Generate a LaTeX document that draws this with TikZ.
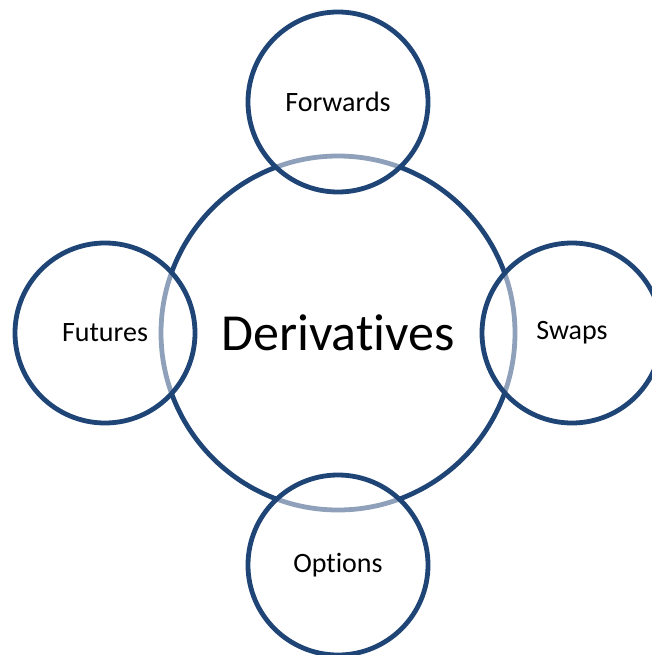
\documentclass[tikz,border=0pt]{standalone}
\usepackage{fontspec}
\setmainfont{Carlito}[RawFeature={-liga;-clig}]
\definecolor{ringblue}{RGB}{31,68,118}
\tikzset{
  ring/.style={draw=ringblue, line width=4.8pt, circle, inner sep=0pt},
  subring/.style={ring, minimum size=180pt, fill=white, fill opacity=0.5, text opacity=1,
    font=\fontsize{28}{30}\selectfont}
}
\begin{document}
\begin{tikzpicture}[x=1pt, y=-1pt]
        \useasboundingbox (0, 0) rectangle (652, 655);
        \node[ring, minimum size=354pt, font=\fontsize{52}{56}\selectfont] (deriv) at (338, 333) {Derivatives};
        \node[subring] (fwd) at (338, 102) {Forwards};
        \node[subring] (fut) at (105, 333) {Futures};
        \node[subring] (swap) at (572, 333) {Swaps};
        \node[subring] (opt) at (338, 565) {Options};
\end{tikzpicture}
\end{document}
